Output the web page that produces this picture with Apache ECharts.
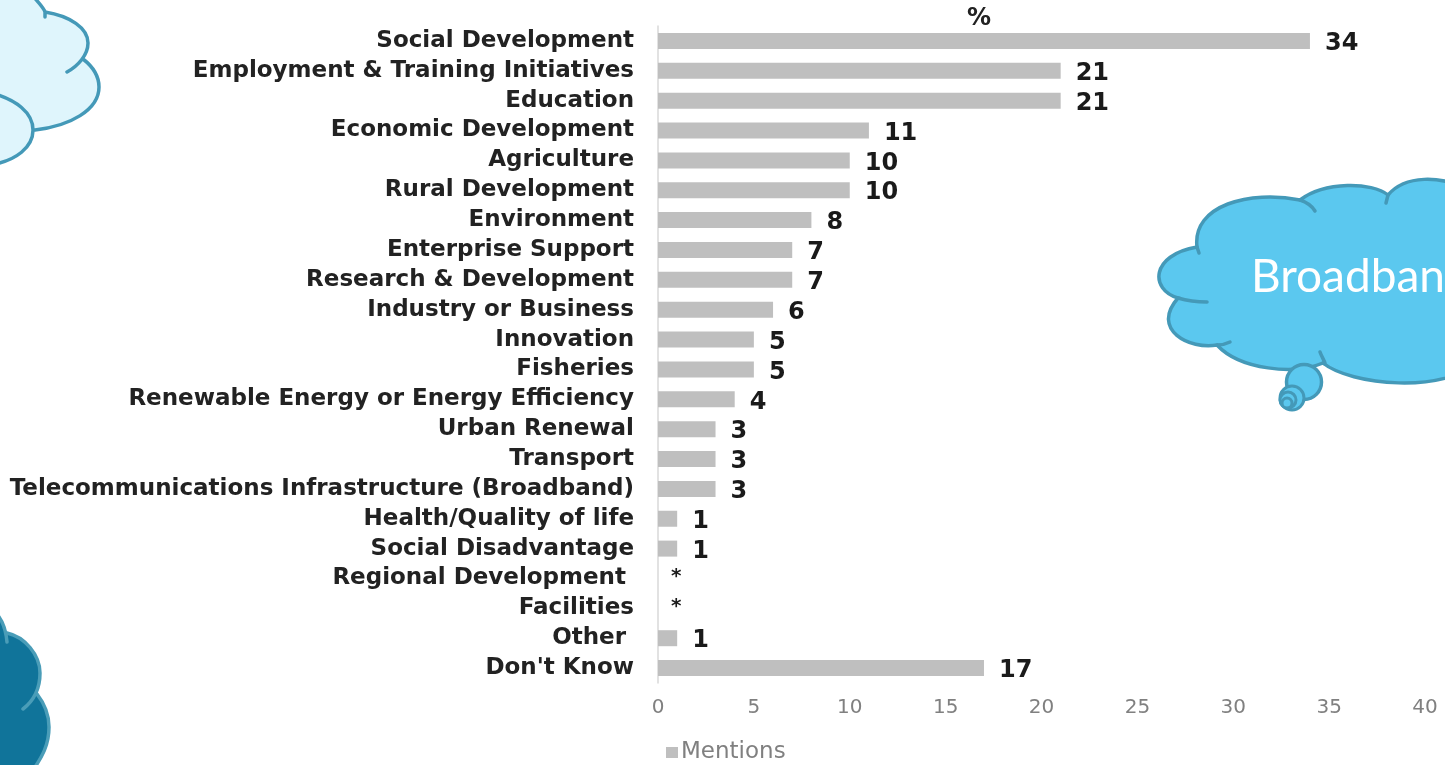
<!DOCTYPE html>
<html>
<head>
<meta charset="utf-8">
<style>html,body{margin:0;padding:0;background:#fff;overflow:hidden}#c{width:1445px;height:765px}</style>
<script src="https://cdn.jsdelivr.net/npm/echarts@6/dist/echarts.min.js"></script>
</head>
<body>
<div id="c"></div>
<script>
var categories = ["Social Development","Employment & Training Initiatives","Education","Economic Development","Agriculture","Rural Development","Environment","Enterprise Support","Research & Development","Industry or Business","Innovation","Fisheries","Renewable Energy or Energy Efficiency","Urban Renewal","Transport","Telecommunications Infrastructure (Broadband)","Health/Quality of life","Social Disadvantage","Regional Development ","Facilities","Other ","Don't Know"];
var mentions = [34,21,21,11,10,10,8,7,7,6,5,5,4,3,3,3,1,1,0,0,1,17];
var seriesName = "Mentions";
var axisTitle = "%";
var calloutText = "Broadband";

var chart = echarts.init(document.getElementById('c'), null, {renderer:'canvas'});
var line = '#4499b8';
var sky = '#5bc8ef';
var paths = {
  cloudRight:'M1197 247 C1192 205 1250 190 1300 200 C1325 181 1372 182 1388 195 C1405 175 1440 175 1470 190 L1480 360 C1445 395 1350 385 1323 363 C1295 375 1240 370 1217 345 C1190 350 1150 330 1178 298 C1150 290 1150 255 1197 247 Z',
  seams:'M1197 247 L1199 253 M1300 200 C1306 202 1312 206 1315 211 M1388 195 L1386 203 M1178 298 C1188 301 1197 302 1207 302 M1217 345 C1222 345 1226 344 1230 342 M1323 363 C1328 366 1322 358 1320 352',
  tl1:'M-5 -5 L32 -5 C38 2 44 8 45 12 C70 16 88 28 88 43 C88 50 85 56 83 59 C92 66 99 75 99 87 C99 110 70 126 35 130 C33 150 15 160 -5 164 Z',
  tl2:'M32 -5 C38 2 44 8 45 12 L45 17 M45 12 C70 16 88 28 88 43 C88 55 78 66 67 72 M83 59 C92 66 99 75 99 87 C99 110 70 126 35 130 M-5 94 C15 100 33 112 33 130 C33 148 15 160 -5 164',
  bl1:'M-5 612 C3 620 6 630 7 633 C25 637 40 655 40 673 C40 682 39 689 37 694 C44 703 49 714 49 727 C49 745 42 757 33 770 L-5 770 Z',
  bl2:'M-5 612 C3 620 6 630 7 642 M7 633 C25 637 40 655 40 673 C40 690 32 702 23 709 M37 694 C44 703 49 714 49 727 C49 745 42 757 33 770'
};
Object.keys(paths).forEach(function(k){
  echarts.graphic.registerShape(k, echarts.graphic.extendPath(paths[k], {}));
});

chart.setOption({
  animation:false,
  backgroundColor:'#fff',
  title:{text:axisTitle,left:962,top:2,textStyle:{fontFamily:'DejaVu Sans',fontWeight:'bold',fontSize:24,color:'#222'}},
  legend:{data:[seriesName],left:661,top:736,itemWidth:12,itemHeight:11,itemGap:6,icon:'rect',
    textStyle:{fontFamily:'DejaVu Sans',fontSize:23,color:'#808080',padding:[0,0,0,-2]}},
  grid:{left:658,top:26,width:767,height:657,containLabel:false},
  xAxis:{type:'value',min:0,max:40,interval:5,
    axisLine:{show:false},axisTick:{show:false},splitLine:{show:false},
    axisLabel:{margin:15,fontFamily:'DejaVu Sans',fontSize:20,color:'#808080',hideOverlap:false,showMaxLabel:true,showMinLabel:true}},
  yAxis:{type:'category',inverse:true,data:categories,
    axisLine:{show:true,lineStyle:{color:'#d9d9d9',width:1.5}},axisTick:{show:false},
    axisLabel:{margin:24,interval:0,fontFamily:'DejaVu Sans',fontWeight:'bold',fontSize:23,color:'#222',padding:[0,0,3,0]}},
  series:[{name:seriesName,type:'bar',barWidth:16,data:mentions.map(function(v){
      return v===0?{value:v,label:{fontSize:20,distance:13,offset:[0,-2]}}:v;}),
    itemStyle:{color:'#bfbfbf'},
    label:{show:true,position:'right',distance:15,offset:[0,3],fontFamily:'DejaVu Sans',fontWeight:'bold',fontSize:24,color:'#1a1a1a',
      formatter:function(p){return p.value===0?'*':String(p.value);}}}],
  graphic:[
    {type:'tl1',style:{fill:'#dff5fc',stroke:'none'}},
    {type:'tl2',style:{fill:'none',stroke:line,lineWidth:3.5,lineCap:'round'}},
    {type:'bl1',style:{fill:'#10749a',stroke:'none'}},
    {type:'bl2',style:{fill:'none',stroke:'#4a9db8',lineWidth:3.5,lineCap:'round'}},
    {type:'cloudRight',style:{fill:sky,stroke:line,lineWidth:3.5}},
    {type:'seams',style:{fill:'none',stroke:line,lineWidth:3.5,lineCap:'round'}},
    {type:'circle',shape:{cx:1304,cy:382,r:17.5},style:{fill:sky,stroke:line,lineWidth:3.5}},
    {type:'circle',shape:{cx:1292,cy:398,r:12},style:{fill:sky,stroke:line,lineWidth:3}},
    {type:'circle',shape:{cx:1288,cy:400,r:8},style:{fill:sky,stroke:line,lineWidth:3}},
    {type:'circle',shape:{cx:1287,cy:403,r:5},style:{fill:sky,stroke:line,lineWidth:3}},
    {type:'text',x:1251,y:254,style:{text:calloutText,fill:'#fff',fontFamily:'Lato',fontSize:46,textVerticalAlign:'top'}}
  ]
});
</script>
</body>
</html>
